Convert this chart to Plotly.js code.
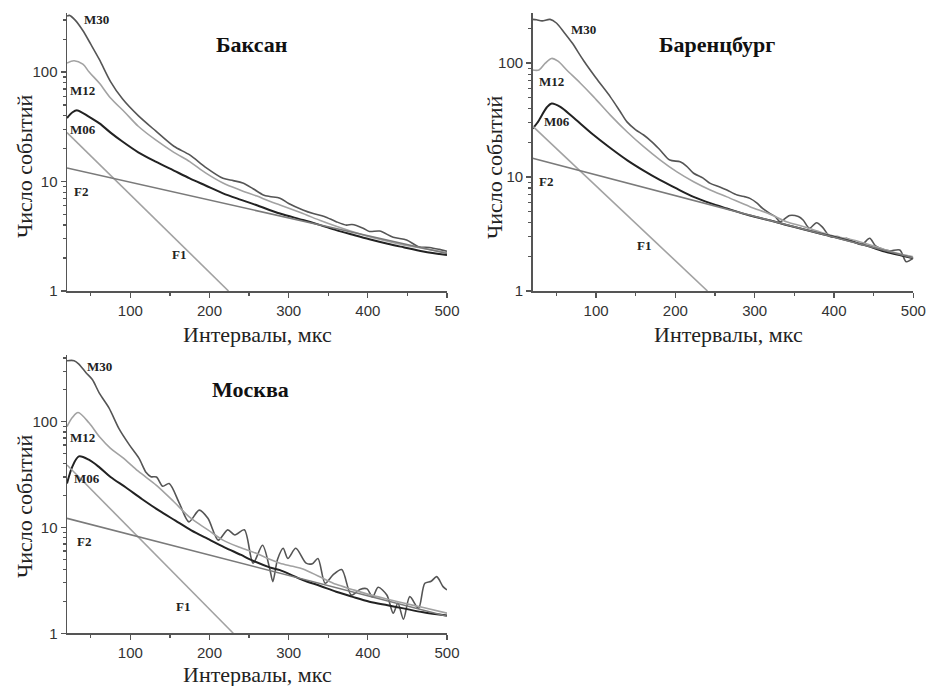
<!DOCTYPE html>
<html>
<head>
<meta charset="utf-8">
<script src="https://cdn.plot.ly/plotly-3.0.1.min.js"></script>
<style>html,body{margin:0;padding:0;background:#fff;}#chart{width:927px;height:686px;}</style>
</head>
<body>
<div id="chart"></div>
<script>
// ---------- DATA ----------
const panelTitles = ["Баксан", "Баренцбург", "Москва"];
const xAxisTitle = "Интервалы, мкс";
const yAxisTitle = "Число событий";
const seriesNames = ["M30", "M12", "M06", "F1", "F2"];
const xTickVals = [100, 200, 300, 400, 500];
const yTickVals = [1, 10, 100];
const yMinorVals = [2,3,4,5,6,7,8,9,20,30,40,50,60,70,80,90,200,300,400];

// Баксан
const baksanM30x = [20,23,30,40,50,61,75,90,110,132,155,175,195,217,230,242,255,268,276,289,300,318,331,345,360,373,380,394,402,415,432,449,464,478,490,500];
const baksanM30y = [325,330,300,240,180,130,82,57,40,29,21,17.5,13.5,10.7,10.2,9.7,8.6,7.55,7.3,7.05,6.3,5.5,5.1,4.8,4.3,4.0,4.05,3.75,3.5,3.53,3.1,2.93,2.54,2.5,2.4,2.3];
const baksanM12x = [20,29,40,48,61,75,93,110,132,155,175,195,217,240,259,276,289,318,340,360,380,402,425,445,470,500];
const baksanM12y = [121,127,118,100,79,58,43,32,24,18.5,15.2,12.0,9.7,8.3,7.4,6.6,6.1,5.1,4.4,3.9,3.5,3.14,2.85,2.64,2.45,2.25];
const baksanM06x = [20,27,33,48,61,75,90,110,132,155,175,195,217,240,259,289,318,340,360,380,402,425,445,470,500];
const baksanM06y = [38,43,44.7,39,34,28,23.2,18.5,15.2,12.6,10.7,9.2,7.8,6.8,6.1,5.1,4.46,4.0,3.6,3.28,2.97,2.7,2.51,2.3,2.13];
const baksanF1x = [20,224];
const baksanF1y = [28,1];
const baksanF2x = [20,500];
const baksanF2y = [13.3,2.2];

// Баренцбург
const barM30x = [20,25,32,42,50,60,70,84,100,118,130,139,150,160,170,181,193,206,214,223,235,244,256,265,278,288,294,303,310,319,326,332,344,355,361,369,378,386,395,405,410,416,425,435,445,452,458,470,483,491,500];
const barM30y = [242,240,235,242,225,185,150,106,74,50.6,38,30.5,26,23.4,20.5,17.2,14.1,13.6,12.5,10.8,9.8,8.8,8.2,7.7,6.95,6.7,6.5,5.9,5.3,4.8,4.5,4.05,4.6,4.5,4.2,3.55,3.97,3.6,3.0,3.0,2.85,2.9,2.7,2.55,2.9,2.5,2.37,2.25,2.29,1.81,1.94];
const barM12x = [20,28,36,44,52,63,80,97,118,139,160,181,202,223,244,265,294,320,340,360,382,403,424,445,466,485,500];
const barM12y = [87,87,100,110,104,87,67,50.6,35,25,18.5,14.1,11.1,9.1,7.7,6.7,5.5,4.7,4.05,3.7,3.3,3.0,2.8,2.55,2.29,2.1,2.0];
const barM06x = [20,26,38,44,55,70,97,118,139,160,181,202,223,244,265,294,320,340,360,382,403,424,445,466,485,500];
const barM06y = [26.7,30,41,44.3,41.4,34,23.4,18,14.1,11.4,9.4,7.9,6.7,5.9,5.3,4.6,4.15,3.8,3.5,3.2,2.95,2.7,2.45,2.2,2.05,1.94];
const barF1x = [20,240.5];
const barF1y = [28,1];
const barF2x = [20,500];
const barF2y = [14.6,1.95];

// Москва
const mosM30x = [20,29,35,44,52,61,73,86,99,111,120,126,133,141,149,162,174,187,198,211,223,232,244,255,267,276,280,286,293,299,309,322,330,337,346,356,367,379,390,399,406,413,424,432,438,445,453,464,472,480,487,495,500];
const mosM30y = [377,377,350,290,250,185,135,85,60,45,33,30.2,30,24.5,26,16.9,11.3,14.6,12.2,7.6,9.5,8.5,9.5,4.6,6.8,4.1,3.08,5.0,6.36,5.1,6.36,4.6,4.55,5.1,2.97,3.56,4.0,2.3,2.6,2.63,2.2,2.72,2.3,1.55,1.92,1.36,2.22,1.72,2.97,3.1,3.43,2.76,2.57];
const mosM12x = [20,27,34,48,61,75,90,110,133,155,176,198,217,238,259,276,289,305,318,340,360,380,402,425,445,470,500];
const mosM12y = [90,110,122,97,72,56,46,34,25,17.5,12.3,9.5,7.6,6.5,5.7,5.0,4.6,4.3,4.05,3.4,2.9,2.6,2.32,2.1,1.93,1.75,1.55];
const mosM06x = [20,27,35,48,61,75,94,115,136,157,177,198,219,240,251,276,289,318,340,360,380,402,425,445,470,500];
const mosM06y = [26,38,47,43.5,37,30,24,18.5,14.5,11.6,9.4,7.8,6.5,5.5,5.0,4.2,3.95,3.19,2.8,2.47,2.22,1.99,1.84,1.72,1.58,1.47];
const mosF1x = [20,230];
const mosF1y = [39,1];
const mosF2x = [20,500];
const mosF2y = [12.2,1.45];

// ---------- BUILD ----------
const panels = [
  {ax:"", series:[[baksanM30x,baksanM30y],[baksanM12x,baksanM12y],[baksanM06x,baksanM06y],[baksanF1x,baksanF1y],[baksanF2x,baksanF2y]]},
  {ax:"2", series:[[barM30x,barM30y],[barM12x,barM12y],[barM06x,barM06y],[barF1x,barF1y],[barF2x,barF2y]]},
  {ax:"3", series:[[mosM30x,mosM30y],[mosM12x,mosM12y],[mosM06x,mosM06y],[mosF1x,mosF1y],[mosF2x,mosF2y]]}
];
const styles = [
  {color:"#555555", width:1.6, shape:"spline", smoothing:0.8},
  {color:"#a2a2a2", width:1.6, shape:"spline", smoothing:0.9},
  {color:"#222222", width:2.0, shape:"spline", smoothing:0.9},
  {color:"#a2a2a2", width:1.6, shape:"linear"},
  {color:"#7a7a7a", width:1.6, shape:"linear"}
];
const traces = [];
panels.forEach(p => {
  p.series.forEach((s, i) => {
    const st = styles[i];
    const line = {color: st.color, width: st.width, shape: st.shape};
    if (st.smoothing) line.smoothing = st.smoothing;
    traces.push({x: s[0], y: s[1], type: "scatter", mode: "lines", name: seriesNames[i],
      xaxis: "x" + p.ax, yaxis: "y" + p.ax, line: line, showlegend: false, hoverinfo: "skip"});
  });
});

const W = 927, H = 686;
function xdom(a, b){ return [a/W, b/W]; }
function ydom(top, bottom){ return [1 - bottom/H, 1 - top/H]; }

const tickFont = {family: "Liberation Sans, Arial, sans-serif", size: 15, color: "#333"};
const serif = "Liberation Serif, Times New Roman, serif";

function xAxis(dom, anchor){
  return {domain: dom, anchor: anchor, range: [20, 500], tickmode: "array", tickvals: xTickVals,
    ticks: "outside", ticklen: 5, tickwidth: 1.3, tickcolor: "#555",
    minor: {tickmode: "linear", tick0: 50, dtick: 100, ticks: "outside", ticklen: 3, tickcolor: "#555", showgrid: false},
    showline: true, linecolor: "#555", linewidth: 1.5, showgrid: false, zeroline: false,
    tickfont: tickFont, automargin: false};
}
function yAxis(dom, anchor, top){
  return {domain: dom, anchor: anchor, type: "log", range: [0, top], tickmode: "array", tickvals: yTickVals,
    ticktext: yTickVals.map(String),
    ticks: "outside", ticklen: 5, tickwidth: 1.3, tickcolor: "#555",
    minor: {tickmode: "array", tickvals: yMinorVals, ticks: "outside", ticklen: 3, tickcolor: "#555", showgrid: false},
    showline: true, linecolor: "#555", linewidth: 1.5, showgrid: false, zeroline: false,
    tickfont: tickFont, automargin: false};
}

function lab(text, ax, x, ly){
  return {text: "<b>" + text + "</b>", xref: "x" + ax, yref: "y" + ax, x: x, y: ly, showarrow: false,
    font: {family: serif, size: 13, color: "#222"}, xanchor: "center", yanchor: "middle"};
}
function ttl(text, ax, fx, fy){
  return {text: "<b>" + text + "</b>", xref: "x" + ax + " domain", yref: "y" + ax + " domain", x: fx, y: fy,
    showarrow: false, xanchor: "center", yanchor: "middle",
    font: {family: serif, size: 22, color: "#111"}};
}
function axTitle(text, px, py, angle){
  return {text: text, xref: "paper", yref: "paper", x: px / W, y: 1 - py / H, showarrow: false,
    xanchor: "center", yanchor: "middle", textangle: angle,
    font: {family: serif, size: 22, color: "#222"}};
}

const annotations = [
  ttl(panelTitles[0], "", 0.487, 0.885),
  ttl(panelTitles[1], "2", 0.484, 0.885),
  ttl(panelTitles[2], "3", 0.482, 0.877),
  axTitle(xAxisTitle, 257, 334, 0), axTitle(xAxisTitle, 728, 334, 0), axTitle(xAxisTitle, 257, 674, 0),
  axTitle(yAxisTitle, 24, 167, -90), axTitle(yAxisTitle, 494, 167, -90), axTitle(yAxisTitle, 24, 507, -90),
  lab("M30", "", 57, 2.479), lab("M12", "", 40, 1.833), lab("M06", "", 40, 1.479), lab("F2", "", 38, 0.909), lab("F1", "", 162, 0.329),
  lab("M30", "2", 84, 2.296), lab("M12", "2", 44, 1.836), lab("M06", "2", 51, 1.485), lab("F2", "2", 37, 0.959), lab("F1", "2", 161, 0.395),
  lab("M30", "3", 61, 2.526), lab("M12", "3", 40, 1.853), lab("M06", "3", 45, 1.465), lab("F2", "3", 42, 0.872), lab("F1", "3", 167, 0.258)
];

const layout = {
  width: W, height: H, margin: {l: 0, r: 0, t: 0, b: 0},
  paper_bgcolor: "#fff", plot_bgcolor: "#fff", showlegend: false,
  xaxis:  xAxis(xdom(67, 447), "y"),
  yaxis:  yAxis(ydom(13, 291), "x", 2.54),
  xaxis2: xAxis(xdom(532.6, 913.3), "y2"),
  yaxis2: yAxis(ydom(13, 291), "x2", 2.44),
  xaxis3: xAxis(xdom(67, 447), "y3"),
  yaxis3: yAxis(ydom(355, 633.3), "x3", 2.63),
  annotations: annotations
};

Plotly.newPlot("chart", traces, layout, {staticPlot: true, displayModeBar: false});
</script>
</body>
</html>
